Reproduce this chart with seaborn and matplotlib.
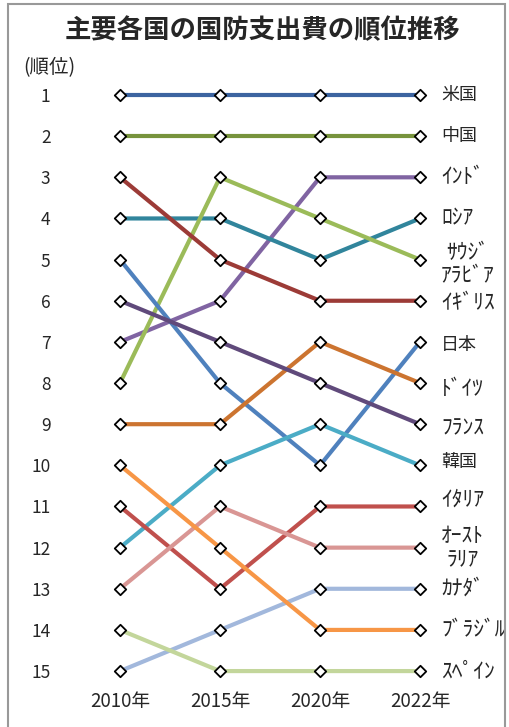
import matplotlib
matplotlib.use("Agg")
import matplotlib.pyplot as plt
import seaborn as sns
import pandas as pd
from matplotlib.patches import Rectangle

years = ["2010年", "2015年", "2020年", "2022年"]

countries = ["米国", "中国", "ｲﾝﾄﾞ", "ﾛｼｱ", "ｻｳｼﾞ\nｱﾗﾋﾞｱ", "ｲｷﾞﾘｽ", "日本", "ﾄﾞｲﾂ",
             "ﾌﾗﾝｽ", "韓国", "ｲﾀﾘｱ", "ｵｰｽﾄ\nﾗﾘｱ", "ｶﾅﾀﾞ", "ﾌﾞﾗｼﾞﾙ", "ｽﾍﾟｲﾝ"]

ranks = [
    [1, 1, 1, 1],      # 米国
    [2, 2, 2, 2],      # 中国
    [7, 6, 3, 3],      # インド
    [4, 4, 5, 4],      # ロシア
    [8, 3, 4, 5],      # サウジアラビア
    [3, 5, 6, 6],      # イギリス
    [5, 8, 10, 7],     # 日本
    [9, 9, 7, 8],      # ドイツ
    [6, 7, 8, 9],      # フランス
    [12, 10, 9, 10],   # 韓国
    [11, 13, 11, 11],  # イタリア
    [13, 11, 12, 12],  # オーストラリア
    [15, 14, 13, 13],  # カナダ
    [10, 12, 14, 14],  # ブラジル
    [14, 15, 15, 15],  # スペイン
]

colors = ["#3C64A0", "#77933C", "#8064A2", "#31859C", "#9BBB59", "#9C3B37",
          "#4F81BD", "#CC7430", "#604A7B", "#4BACC6", "#C0504D", "#D99694",
          "#A2B8DC", "#F79646", "#C3D69B"]

# vertical nudge of the end labels, in rank units
label_dy = [0, 0, 0, 0, 0.12, 0.07, 0.07, 0.15, 0.1, -0.07, -0.17, 0, 0, 0, 0]

rows = []
for c, r in zip(countries, ranks):
    for i, (y, v) in enumerate(zip(years, r)):
        rows.append({"country": c, "pos": i, "year": y, "rank": v})
df = pd.DataFrame(rows)

sns.set_theme(style="white")
plt.rcParams["font.family"] = ["Noto Sans CJK JP", "DejaVu Sans"]

W, H = 509, 727
fig = plt.figure(figsize=(W / 100, H / 100), dpi=100)
fig.patch.set_facecolor("white")

# axes placed in pixel terms: x 95..430, y 80..690 (top-down)
ax = fig.add_axes([95 / W, 1 - 690 / H, (430 - 95) / W, (690 - 80) / H])
ax.set_xlim(-0.25, 3.1)
ax.set_ylim(15.46, 0.635)

sns.lineplot(data=df, x="pos", y="rank", hue="country", palette=colors,
             hue_order=countries, linewidth=3, legend=False, ax=ax,
             sort=False, estimator=None, zorder=2)
sns.scatterplot(data=df, x="pos", y="rank", marker="D", s=34,
                facecolor="white", edgecolor="black", linewidth=1.3,
                ax=ax, zorder=3, legend=False)

for c, r, dy in zip(countries, ranks, label_dy):
    is_kanji = c in ("米国", "中国", "日本", "韓国")
    ax.text(3.21, r[-1] + dy, c, ha="left", va="center", multialignment="center",
            fontsize=13 if is_kanji else 15.5, linespacing=1.12, clip_on=False)

ax.set_xticks(range(len(years)))
ax.set_xticklabels(years, fontsize=13.5)
ax.set_yticks(range(1, 16))
ax.set_yticklabels([str(i) for i in range(1, 16)], fontsize=12.5)
ax.tick_params(axis="y", length=0, pad=32)
ax.tick_params(axis="x", length=0, pad=1)
ax.set_xlabel("")
ax.set_ylabel("")
for s in ax.spines.values():
    s.set_visible(False)

fig.text(262 / W, 1 - 31 / H, "主要各国の国防支出費の順位推移", ha="center", va="center",
         fontsize=19, fontweight="bold")
fig.text(23 / W, 1 - 68 / H, "(順位)", ha="left", va="center", fontsize=14)

# outer frame
fig.patches.append(Rectangle((8 / W, -0.01), (505 - 8) / W, 1 - 4 / H + 0.01,
                             transform=fig.transFigure, fill=False,
                             edgecolor="#999999", linewidth=1.5))

fig.savefig("out.png", dpi=100)
